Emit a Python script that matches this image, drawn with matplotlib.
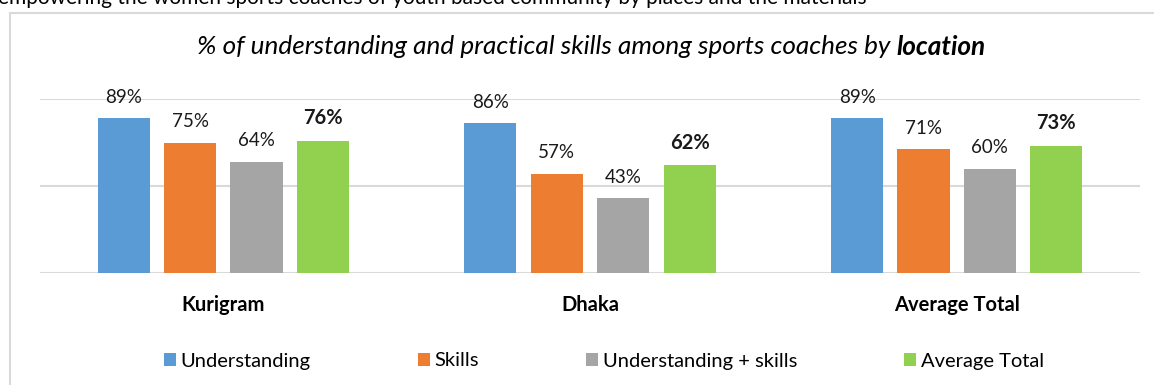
import numpy as np
import matplotlib.pyplot as plt
from matplotlib.patches import Patch, Rectangle

plt.rcParams['font.family'] = ['Lato', 'DejaVu Sans']

# Survey results by location (percent)
locations = ['Kurigram', 'Dhaka', 'Average Total']
series_names = ['Understanding', 'Skills', 'Understanding + skills', 'Average Total']
understanding = [89, 86, 89]
skills = [75, 57, 71]
understanding_skills = [64, 43, 60]
average_total = [76, 62, 73]

series_values = [understanding, skills, understanding_skills, average_total]
colors = ['#5B9BD5', '#ED7D31', '#A5A5A5', '#92D050']

W, H = 1154, 385
fig = plt.figure(figsize=(W / 100, H / 100), dpi=100)

# line of body text running above the chart frame
fig.text(-2 / W, 1 - 4 / H,
         'empowering the women sports coaches of youth based community by places and the materials',
         fontsize=15, ha='left', va='baseline', color='black')

# chart frame
fig.patches.append(Rectangle((10 / W, -0.1), 1.2, 1 - 13 / H + 0.1,
                             transform=fig.transFigure, fill=False,
                             edgecolor='#D9D9D9', lw=1.5))

ax = fig.add_axes([40 / W, 1 - 273 / H, 1100 / W, 174 / H])
ax.set_xlim(-0.5, 2.5)
ax.set_ylim(0, 100)

x = np.arange(len(locations))
pitch = 0.181
width = 0.142
for i, (name, vals, col) in enumerate(zip(series_names, series_values, colors)):
    xs = x + (i - 1.5) * pitch
    ax.bar(xs, vals, width=width, color=col, zorder=2)
    bold = name == 'Average Total'
    for xi, v in zip(xs, vals):
        ax.annotate(f'{v}%', (xi, v), xytext=(0, 9), textcoords='offset points',
                    ha='center', va='bottom', fontsize=14.5 if bold else 13.5,
                    fontweight='bold' if bold else 'normal', color='#1a1a1a')

ax.set_yticks([0, 50, 100])
ax.set_yticklabels([])
ax.yaxis.grid(True, color='#D9D9D9', lw=1.5)
ax.set_axisbelow(True)
ax.tick_params(axis='both', length=0)
ax.set_xticks(x)
ax.set_xticklabels(locations, fontsize=14.5, fontweight='bold')
ax.tick_params(axis='x', pad=16)
for s in ax.spines.values():
    s.set_visible(False)

# title: italic with the last word in bold italic
t1 = fig.text(197 / W, 1 - 47 / H,
              '% of understanding and practical skills among sports coaches by ',
              fontsize=18.8, style='italic', ha='left', va='center')
fig.canvas.draw()
bb = t1.get_window_extent()
fig.text(bb.x1 / W, 1 - 47 / H, 'location', fontsize=18.8, style='italic',
         fontweight='bold', ha='left', va='center')

handles = [Patch(facecolor=c) for c in colors]
fig.legend(handles, series_names, loc='center', bbox_to_anchor=(604 / W, 1 - 361 / H),
           ncol=4, frameon=False, fontsize=14.5, handlelength=0.6, handleheight=0.6,
           handletextpad=0.25, columnspacing=5.3)

fig.savefig('out.png', dpi=100)
